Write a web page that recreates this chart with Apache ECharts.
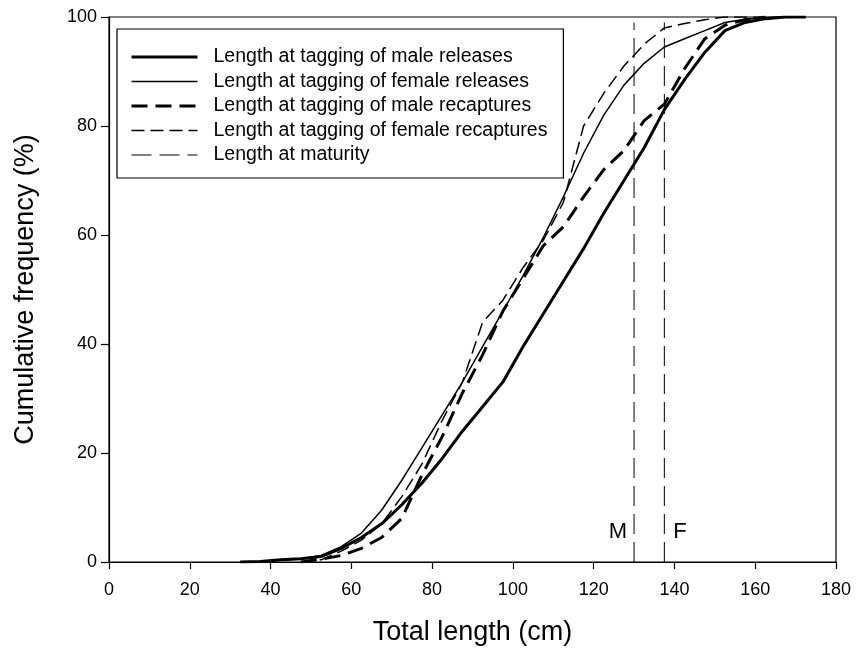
<!DOCTYPE html>
<html><head><meta charset="utf-8">
<script src="https://cdn.jsdelivr.net/npm/echarts@6/dist/echarts.min.js"></script>
<style>html,body{margin:0;padding:0;background:#fff}#c{width:859px;height:652px}</style>
</head><body><div id="c"></div>
<script>
const lengths = [32.5,37.5,42.5,47.5,52.5,57.5,62.5,67.5,72.5,77.5,82.5,87.5,92.5,97.5,102.5,107.5,112.5,117.5,122.5,127.5,132.5,137.5,142.5,147.5,152.5,157.5,162.5,167.5,172.5];
const maleReleases   = [0,0.1,0.4,0.6,1.0,2.5,4.5,7,10.5,14.5,19,24,28.5,33,39.5,45.5,51.5,57.5,64,70,76,83,88.5,93.5,97.5,99,99.7,100,100];
const femaleReleases = [0,0.1,0.3,0.6,1.2,2.8,5.3,9.5,15,21,27,33,39.5,46,52.5,59.5,67,75,82,87.5,91.5,94.5,96,97.5,99,99.6,99.9,100,100];
const recapLengths = [47.5,52.5,57.5,62.5,67.5,72.5,77.5,82.5,87.5,92.5,97.5,102.5,107.5,112.5,117.5,122.5,127.5,132.5,137.5,142.5,147.5,152.5,157.5,162.5];
const maleRecaptures   = [0,0.5,1.2,2.5,4.5,8,16,23,31,38,46,52,58,61.5,67,72,75.5,81,84,90.5,96,98.5,99.5,100];
const femaleRecaptures = [0,0.4,2,4,7,12,18,26,33,44,48,54,59,66,80,86,91,95,98,98.8,99.5,100,100,100];
const maturityM = 130, maturityF = 137.5;
const xTicks = {min:0, max:180, interval:20};
const yTicks = {min:0, max:100, interval:20};
const seriesNames = ['Length at tagging of male releases','Length at tagging of female releases','Length at tagging of male recaptures','Length at tagging of female recaptures','Length at maturity'];

const zip = (xs, ys) => xs.map((x,i)=>[x, ys[i]]);
const font = 'Liberation Sans, Arial, sans-serif';
const black = '#000';
const styles = [
  {width:3, type:'solid'},
  {width:1.5, type:'solid'},
  {width:3, type:[16,8]},
  {width:1.5, type:[13,6]},
  {width:1, type:[20,8]}
];

function maturitySeries(x, lbl, pos, dist){
  return {
    name:seriesNames[4], type:'line', symbol:'circle', symbolSize:0, showSymbol:true, silent:true,
    itemStyle:{color:black},
    lineStyle:Object.assign({color:black}, styles[4]),
    data:[[x,0], {value:[x,5.5], label:{show:true, formatter:lbl, position:pos, distance:dist, color:black, fontSize:22, fontFamily:font}}, [x,99]]
  };
}
function curve(i, xs, ys){
  return {name:seriesNames[i], type:'line', symbol:'none', z:5, itemStyle:{color:black},
    lineStyle:Object.assign({color:black}, styles[i]), data:zip(xs, ys)};
}

const chart = echarts.init(document.getElementById('c'));
chart.setOption({
  animation:false,
  backgroundColor:'#fff',
  grid:{left:109, top:17, width:727, height:545, show:true, borderColor:black, borderWidth:1.2, containLabel:false},
  xAxis:{type:'value', min:xTicks.min, max:xTicks.max, interval:xTicks.interval,
    name:'Total length (cm)', nameLocation:'middle', nameGap:57,
    nameTextStyle:{fontSize:27, fontFamily:font, color:black},
    axisLine:{lineStyle:{color:black, width:1.2}},
    axisTick:{show:true, inside:false, length:7, lineStyle:{color:black, width:1.2}},
    axisLabel:{fontSize:18, fontFamily:font, color:black, margin:19},
    splitLine:{show:false}},
  yAxis:{type:'value', min:yTicks.min, max:yTicks.max, interval:yTicks.interval,
    name:'Cumulative frequency (%)', nameLocation:'middle', nameGap:70,
    nameTextStyle:{fontSize:27, fontFamily:font, color:black},
    axisLine:{show:true, lineStyle:{color:black, width:1.2}},
    axisTick:{show:true, inside:false, length:8, lineStyle:{color:black, width:1.2}},
    axisLabel:{fontSize:18, fontFamily:font, color:black, margin:12},
    splitLine:{show:false}},
  legend:{orient:'vertical', left:117, top:29, itemWidth:66, itemHeight:20, itemGap:4.5,
    padding:[18,16,13,13], borderColor:black, borderWidth:1.2, backgroundColor:'#fff',
    itemStyle:{opacity:0},
    textStyle:{fontSize:19.5, lineHeight:20, fontFamily:font, color:black, padding:[0,0,0,11]},
    data:seriesNames.map((n,i)=>({name:n, lineStyle:Object.assign({color:black}, styles[i]), itemStyle:{opacity:0}}))},
  series:[
    curve(0, lengths, maleReleases),
    curve(1, lengths, femaleReleases),
    curve(2, recapLengths, maleRecaptures),
    curve(3, recapLengths, femaleRecaptures),
    maturitySeries(maturityM, 'M', 'left', 7),
    maturitySeries(maturityF, 'F', 'right', 9)
  ]
});
</script></body></html>
